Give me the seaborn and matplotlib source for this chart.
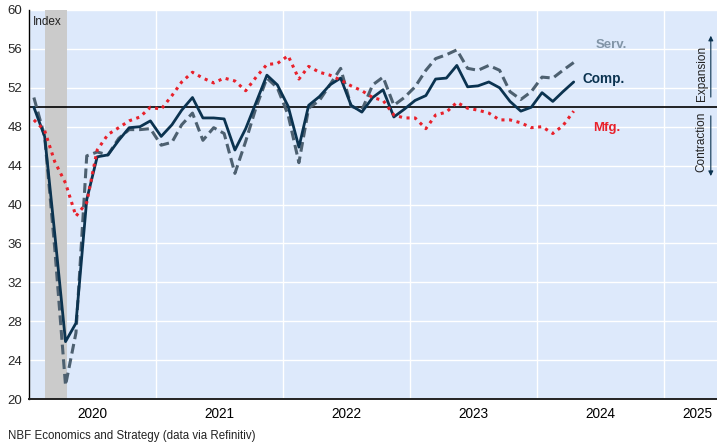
import numpy as np
import pandas as pd
import matplotlib
matplotlib.use("Agg")
import matplotlib.pyplot as plt
import matplotlib.dates as mdates
import matplotlib.transforms as mtransforms
import seaborn as sns

# ---------------- data ----------------
start_month = "2020-01-01"
n_months = 52
comp = [50.0, 47.0, 37.0, 25.9, 27.8, 40.5, 44.9, 45.1, 46.6, 47.9, 48.0, 48.6,
        47.0, 48.2, 49.7, 51.0, 48.9, 48.9, 48.8, 45.6, 47.8, 50.5, 53.3, 52.3,
        50.1, 45.9, 50.2, 51.1, 52.3, 53.0, 50.2, 49.5, 51.0, 51.8, 49.0, 49.8,
        50.7, 51.2, 52.9, 53.0, 54.3, 52.1, 52.2, 52.6, 52.0, 50.6, 49.6, 50.0,
        51.5, 50.6, 51.6, 52.6]
serv = [51.0, 47.0, 35.5, 21.4, 26.8, 45.0, 45.4, 45.1, 46.8, 47.7, 47.7, 47.8,
        46.1, 46.4, 48.2, 49.4, 46.6, 47.9, 47.3, 43.2, 46.5, 50.0, 53.0, 52.0,
        49.2, 44.3, 49.9, 50.7, 52.3, 54.0, 50.1, 49.7, 52.3, 53.1, 50.2, 51.0,
        52.1, 53.8, 55.0, 55.4, 55.9, 54.0, 53.8, 54.3, 53.8, 51.6, 50.8, 51.6,
        53.1, 53.0, 53.8, 54.6]
mfg = [48.7, 47.6, 44.4, 42.2, 38.8, 40.2, 45.6, 47.2, 47.9, 48.6, 49.0, 50.0,
       49.8, 51.2, 52.6, 53.6, 53.0, 52.5, 53.0, 52.7, 51.7, 53.1, 54.4, 54.5,
       55.3, 52.9, 54.2, 53.6, 53.3, 52.8, 52.2, 51.7, 51.0, 50.7, 49.2, 48.9,
       48.9, 47.8, 49.2, 49.5, 50.5, 49.9, 49.7, 49.4, 48.7, 48.7, 48.4, 47.9,
       48.0, 47.3, 48.1, 49.6]
series_names = ["Serv.", "Comp.", "Mfg."]
year_labels = ["2020", "2021", "2022", "2023", "2024", "2025"]
y_ticks = list(range(20, 61, 4))
recession = ("2020-02-16", "2020-04-18")

dates = pd.date_range(start_month, periods=n_months, freq="MS") + pd.Timedelta(days=14)
df = pd.DataFrame({"date": dates, "Comp.": comp, "Serv.": serv, "Mfg.": mfg})
long = df.melt("date", var_name="series", value_name="value")

# ---------------- style ----------------
sns.set_style("white")
plt.rcParams["font.family"] = ["Liberation Sans", "DejaVu Sans"]

navy = "#0b3350"
grey = "#4d6070"
red = "#e8212b"

fig = plt.figure(figsize=(7.17, 4.46), dpi=100)
W, H = 717, 446
ax = fig.add_axes([29 / W, 1 - 399 / H, 688 / W, 389 / H])
ax.set_facecolor("#dde9fb")

ax.axvspan(pd.Timestamp(recession[0]), pd.Timestamp(recession[1]),
           color="#cbcbcb", zorder=1, lw=0)

styles = {
    "Serv.": dict(color=grey, linestyle=(0, (3.2, 1.6)), linewidth=2.2),
    "Comp.": dict(color=navy, linestyle="-", linewidth=2.0),
    "Mfg.": dict(color=red, linestyle=(0, (1, 1.5)), linewidth=2.2),
}
for i, name in enumerate(series_names):
    sub = long[long["series"] == name]
    sns.lineplot(data=sub, x="date", y="value", ax=ax, legend=False,
                 zorder=4 + i, **styles[name])
for line in ax.get_lines():
    line.set_dash_capstyle("butt")

ax.axhline(50, color="black", lw=1.2, zorder=3)

ax.set_xlim(pd.Timestamp("2020-01-01"), pd.Timestamp("2025-06-01"))
ax.set_ylim(20, 60)
ax.set_yticks(y_ticks)
ax.set_yticklabels([str(v) for v in y_ticks], fontsize=9.5)
ax.xaxis.set_major_locator(mdates.YearLocator())
ax.xaxis.set_minor_locator(mdates.MonthLocator())
ax.xaxis.set_major_formatter(plt.NullFormatter())
ax.tick_params(axis="x", which="major", length=5, width=1, color="black", direction="out")
ax.tick_params(axis="x", which="minor", length=3, width=0.8, color="black", direction="out")
ax.tick_params(axis="y", length=3, width=0.8, color="black", pad=2)
ax.set_xlabel("")
ax.set_ylabel("")

ax.grid(True, which="major", color="white", lw=1.0)
ax.set_axisbelow(True)
for s in ["top", "right"]:
    ax.spines[s].set_visible(False)
ax.spines["left"].set_color("black")
ax.spines["left"].set_linewidth(1.0)
ax.spines["bottom"].set_color("#222222")
ax.spines["bottom"].set_linewidth(1.4)

# year labels
trans = mtransforms.blended_transform_factory(ax.transData, ax.transAxes)
label_pos = [pd.Timestamp(f"{y}-07-02") for y in year_labels[:-1]] + [pd.Timestamp("2025-04-07")]
for lab, pos in zip(year_labels, label_pos):
    ax.text(mdates.date2num(pos), -0.038, lab, transform=trans, ha="center",
            va="center", fontsize=9.8, color="black")

ax.text(0.006, 0.969, "Index", transform=ax.transAxes, fontsize=8.5,
        ha="left", va="center", color="#222222")

ax.text(0.824, 0.910, "Serv.", transform=ax.transAxes, fontsize=9.5,
        fontweight="bold", color="#8194a6", ha="left", va="center")
ax.text(0.804, 0.823, "Comp.", transform=ax.transAxes, fontsize=9.8,
        fontweight="bold", color=navy, ha="left", va="center")
ax.text(0.820, 0.697, "Mfg.", transform=ax.transAxes, fontsize=9.5,
        fontweight="bold", color=red, ha="left", va="center")

# expansion / contraction arrows
ax.annotate("", xy=(0.991, 0.941), xytext=(0.991, 0.769), xycoords="axes fraction",
            arrowprops=dict(arrowstyle="-|>", color=navy, lw=0.8,
                            mutation_scale=7), annotation_clip=False)
ax.annotate("", xy=(0.991, 0.566), xytext=(0.991, 0.735), xycoords="axes fraction",
            arrowprops=dict(arrowstyle="-|>", color=navy, lw=0.8,
                            mutation_scale=7), annotation_clip=False)
ax.text(0.978, 0.838, "Expansion", transform=ax.transAxes, rotation=90,
        fontsize=8.5, ha="center", va="center", color="#222222")
ax.text(0.978, 0.661, "Contraction", transform=ax.transAxes, rotation=90,
        fontsize=8.5, ha="center", va="center", color="#222222")

fig.text(8 / W, 1 - 436 / H, "NBF Economics and Strategy (data via Refinitiv)",
         fontsize=8.3, ha="left", va="center", color="#222222")

fig.savefig("out.png", dpi=100)
